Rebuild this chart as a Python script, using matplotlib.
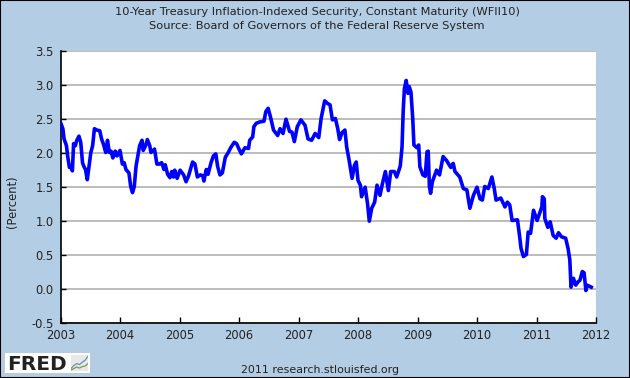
import matplotlib
matplotlib.use('Agg')
import matplotlib.pyplot as plt
from matplotlib.patches import Rectangle

# datas em ano decimal e rendimento em %
datas = [
    2003.01, 2003.04, 2003.06, 2003.10, 2003.12, 2003.15, 2003.17, 2003.20, 2003.22, 2003.25,
    2003.27, 2003.31, 2003.34, 2003.37, 2003.39, 2003.42, 2003.45, 2003.48, 2003.51, 2003.54,
    2003.57, 2003.61, 2003.66, 2003.69, 2003.73, 2003.76, 2003.79, 2003.82, 2003.85, 2003.88,
    2003.92, 2003.95, 2004.00, 2004.04, 2004.07, 2004.10, 2004.15, 2004.18, 2004.21, 2004.24,
    2004.27, 2004.30, 2004.33, 2004.37, 2004.39, 2004.43, 2004.46, 2004.50, 2004.52, 2004.58,
    2004.62, 2004.66, 2004.70, 2004.74, 2004.76, 2004.80, 2004.84, 2004.87, 2004.90, 2004.92,
    2004.96, 2005.01, 2005.07, 2005.11, 2005.15, 2005.22, 2005.26, 2005.30, 2005.35, 2005.39,
    2005.41, 2005.45, 2005.48, 2005.53, 2005.57, 2005.61, 2005.64, 2005.68, 2005.72, 2005.77,
    2005.82, 2005.86, 2005.92, 2005.96, 2006.00, 2006.04,
    2006.10, 2006.16, 2006.18, 2006.23, 2006.25, 2006.29, 2006.35, 2006.42, 2006.45, 2006.49,
    2006.53, 2006.58, 2006.65, 2006.69, 2006.74, 2006.79, 2006.85, 2006.89, 2006.93, 2006.98,
    2007.04, 2007.11, 2007.16, 2007.22, 2007.28, 2007.34, 2007.38, 2007.44, 2007.49, 2007.53,
    2007.57, 2007.62, 2007.66, 2007.69, 2007.73, 2007.78, 2007.81, 2007.85, 2007.90, 2007.94,
    2007.97, 2008.00, 2008.04, 2008.06, 2008.12, 2008.16, 2008.19, 2008.23, 2008.28, 2008.32,
    2008.37, 2008.41, 2008.46, 2008.51, 2008.55, 2008.61, 2008.65, 2008.71, 2008.74, 2008.76,
    2008.78, 2008.81, 2008.84, 2008.86, 2008.89, 2008.92, 2008.94, 2008.99, 2009.02, 2009.04,
    2009.09, 2009.13, 2009.16, 2009.18, 2009.20, 2009.22,
    2009.25, 2009.32, 2009.37, 2009.43, 2009.49, 2009.56, 2009.60, 2009.63, 2009.71, 2009.77,
    2009.83, 2009.88, 2009.94, 2010.00, 2010.05, 2010.09, 2010.13, 2010.19, 2010.25, 2010.29,
    2010.32, 2010.40, 2010.47, 2010.51, 2010.55, 2010.59, 2010.68, 2010.71, 2010.74, 2010.78,
    2010.83, 2010.86, 2010.90, 2010.95, 2011.01, 2011.09, 2011.10, 2011.13, 2011.14, 2011.19,
    2011.23, 2011.28, 2011.33, 2011.37, 2011.42, 2011.49, 2011.53, 2011.56, 2011.58, 2011.62,
    2011.66, 2011.70, 2011.73, 2011.77, 2011.80, 2011.83, 2011.85, 2011.92,
]
valores = [
    2.42, 2.35, 2.20, 2.10, 1.95, 1.78, 1.80, 1.73, 2.13, 2.10,
    2.17, 2.24, 2.15, 1.85, 1.80, 1.75, 1.60, 1.80, 2.00, 2.10,
    2.35, 2.33, 2.32, 2.20, 2.10, 2.00, 2.18, 2.00, 2.02, 1.92,
    2.02, 1.95, 2.03, 1.83, 1.85, 1.75, 1.70, 1.50, 1.41, 1.50,
    1.80, 1.95, 2.10, 2.18, 2.03, 2.10, 2.19, 2.10, 2.00, 2.05,
    1.83, 1.83, 1.85, 1.75, 1.82, 1.68, 1.63, 1.72, 1.64, 1.74,
    1.62, 1.74, 1.67, 1.57, 1.65, 1.86, 1.83, 1.64, 1.67, 1.66,
    1.58, 1.75, 1.68, 1.85, 1.95, 1.98, 1.80, 1.67, 1.70, 1.93,
    2.00, 2.07, 2.15, 2.13, 2.05, 1.98,
    2.07, 2.06, 2.18, 2.23, 2.38, 2.43, 2.45, 2.46, 2.60, 2.65,
    2.52, 2.33, 2.25, 2.35, 2.28, 2.49, 2.31, 2.30, 2.16, 2.38,
    2.48, 2.40, 2.20, 2.18, 2.28, 2.22, 2.50, 2.76, 2.72, 2.70,
    2.48, 2.50, 2.35, 2.19, 2.29, 2.33, 2.08, 1.89, 1.62, 1.81,
    1.86, 1.59, 1.52, 1.35, 1.49, 1.25, 0.99, 1.18, 1.27, 1.52,
    1.37, 1.54, 1.72, 1.44, 1.72, 1.72, 1.64, 1.80, 2.08, 2.62,
    2.94, 3.06, 2.87, 2.97, 2.89, 2.50, 2.11, 2.07, 2.11, 1.79,
    1.67, 1.65, 2.01, 2.02, 1.50, 1.40,
    1.57, 1.74, 1.67, 1.94, 1.88, 1.78, 1.84, 1.72, 1.64, 1.47,
    1.45, 1.18, 1.37, 1.49, 1.32, 1.30, 1.50, 1.47, 1.64, 1.47,
    1.30, 1.33, 1.20, 1.27, 1.23, 1.00, 1.01, 0.81, 0.59, 0.47,
    0.50, 0.83, 0.81, 1.15, 1.00, 1.20, 1.35, 1.32, 1.03, 0.90,
    0.98, 0.78, 0.74, 0.82, 0.76, 0.74, 0.59, 0.42, 0.02, 0.15,
    0.05, 0.10, 0.12, 0.25, 0.23, -0.03, 0.05, 0.02,
]
anos = list(range(2003, 2013))
niveis = [-0.5, 0.0, 0.5, 1.0, 1.5, 2.0, 2.5, 3.0, 3.5]

# mini grafico do logo
logo_x = [0, 1, 2, 3, 4, 5, 6]
logo_azul = [1.0, 2.2, 3.0, 2.6, 3.6, 4.4, 6.0]
logo_verde = [0.4, 1.0, 1.6, 1.2, 1.8, 2.0, 3.0]

plt.rcParams['font.family'] = 'DejaVu Sans'
fundo = '#b3cde5'
cor_texto = '#222222'

fig = plt.figure(figsize=(6.3, 3.78), dpi=100, facecolor=fundo)
W, H = 630, 378

# borda fina da figura
fig.add_artist(Rectangle((0, 0), 1, 1, transform=fig.transFigure, fill=False,
                         edgecolor='black', linewidth=1.5))

ax = fig.add_axes([60.5 / W, 1 - 322.5 / H, 535.5 / W, 272 / H])
ax.plot(datas, valores, color='#0000ff', linewidth=2.6, solid_joinstyle='round', zorder=3)

ax.set_xlim(2003, 2012)
ax.set_ylim(-0.5, 3.5)
ax.set_xticks(anos)
ax.set_xticklabels([str(a) for a in anos])
ax.set_yticks(niveis)
ax.set_yticklabels([f'{n:.1f}' for n in niveis])
ax.grid(axis='y', color='#aaaaaa', linewidth=1.1, zorder=1)
ax.tick_params(axis='x', direction='in', length=4.5, width=1, labelsize=8.3,
               labelcolor=cor_texto, pad=5)
ax.tick_params(axis='y', direction='in', length=3.5, width=1, labelsize=8.3,
               labelcolor=cor_texto, pad=5)
for s in ['top', 'right']:
    ax.spines[s].set_visible(False)
for s in ['left', 'bottom']:
    ax.spines[s].set_color('black')
    ax.spines[s].set_linewidth(1.2)

fig.text(317 / W, 1 - 12 / H, '10-Year Treasury Inflation-Indexed Security, Constant Maturity (WFII10)',
         ha='center', va='center', fontsize=8.2, color=cor_texto)
fig.text(317 / W, 1 - 26 / H, 'Source: Board of Governors of the Federal Reserve System',
         ha='center', va='center', fontsize=8.2, color=cor_texto)
fig.text(12 / W, 1 - 202 / H, '(Percent)', rotation=90, ha='center', va='center',
         fontsize=8.3, color=cor_texto)
fig.text(320 / W, 1 - 370 / H, '2011 research.stlouisfed.org', ha='center', va='center',
         fontsize=7.9, color=cor_texto)

# logo FRED
fig.add_artist(Rectangle((5 / W, 1 - 373 / H), 85 / W, 20 / H, transform=fig.transFigure,
                         facecolor='white', edgecolor='none'))
fig.text(7 / W, 1 - 364 / H, 'FRED', ha='left', va='center', fontsize=14.5,
         fontweight='bold', color='#222222')
ax_logo = fig.add_axes([71 / W, 1 - 371 / H, 17 / W, 16 / H], facecolor='#e8e8e8', zorder=5)
ax_logo.plot(logo_x, logo_azul, color='#6a8fc0', linewidth=0.9)
ax_logo.plot(logo_x, logo_verde, color='#6fa04a', linewidth=0.9)
ax_logo.set_xlim(0, 6)
ax_logo.set_ylim(0, 6.5)
ax_logo.set_xticks([])
ax_logo.set_yticks([])
for s in ax_logo.spines.values():
    s.set_visible(False)

fig.savefig('out.png', dpi=100, facecolor=fundo)
